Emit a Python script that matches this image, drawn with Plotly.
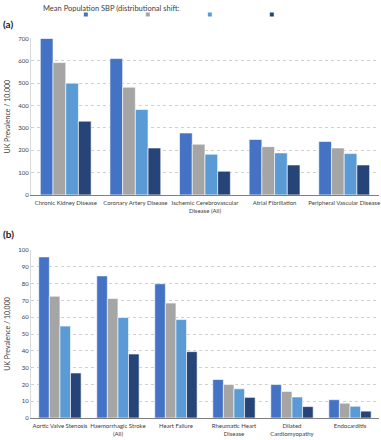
import plotly.graph_objects as go

series_colors = ["#4472C4", "#A5A5A5", "#5B9BD5", "#264478"]

cats_a = ["Chronic Kidney Disease", "Coronary Artery Disease",
          "Ischemic Cerebrovascular<br>Disease (All)", "Atrial Fibrillation",
          "Peripheral Vascular Disease"]
a_s1 = [700, 610, 277, 248, 239]
a_s2 = [592, 482, 227, 216, 210]
a_s3 = [500, 382, 182, 188, 185]
a_s4 = [330, 210, 106, 134, 134]

cats_b = ["Aortic Valve Stenosis", "Haemorrhagic Stroke<br>(All)", "Heart Failure",
          "Rheumatic Heart<br>Disease", "Dilated<br>Cardiomyopathy", "Endocarditis"]
b_s1 = [95.9, 84.6, 79.9, 22.9, 19.9, 10.9]
b_s2 = [72.5, 71.1, 68.4, 19.9, 15.8, 8.8]
b_s3 = [54.7, 59.8, 58.6, 17.4, 12.5, 7.0]
b_s4 = [26.8, 38.1, 39.5, 12.3, 6.8, 4.1]

a_series = [a_s1, a_s2, a_s3, a_s4]
b_series = [b_s1, b_s2, b_s3, b_s4]

FONT = "Liberation Sans Narrow, Lato, sans-serif"
TXT = "#404040"

fig = go.Figure()
for i, vals in enumerate(a_series):
    fig.add_trace(go.Bar(x=cats_a, y=vals, marker=dict(color=series_colors[i], line=dict(color="white", width=0.6)),
                         showlegend=False, xaxis="x", yaxis="y"))
for i, vals in enumerate(b_series):
    fig.add_trace(go.Bar(x=cats_b, y=vals, marker=dict(color=series_colors[i], line=dict(color="white", width=0.6)),
                         showlegend=False, xaxis="x2", yaxis="y2"))
# legend entries (labels not shown in the reference)
for i, c in enumerate(series_colors):
    fig.add_trace(go.Scatter(x=[None], y=[None], mode="markers",
                             marker=dict(symbol="square", size=4, color=c),
                             name=" ", showlegend=True, xaxis="x", yaxis="y"))

W, H = 381, 440
x0, x1 = 31 / W, 380 / W
axis_common = dict(showgrid=False, ticks="", tickangle=0, tickfont=dict(size=6, color=TXT, family=FONT),
                   ticklabelstandoff=2, showline=True, linecolor="#7f7f7f", linewidth=1)
yaxis_common = dict(showgrid=True, gridcolor="#d0d0d0", griddash="dot", gridwidth=1,
                    tickfont=dict(size=6, color=TXT, family=FONT), ticks="",
                    showline=True, linecolor="#d9d9d9", linewidth=1, zeroline=False,
                    title=dict(text="UK Prevalence / 10,000", font=dict(size=7, color=TXT, family=FONT), standoff=6))

fig.update_layout(
    width=W, height=H,
    margin=dict(l=0, r=0, t=0, b=0),
    paper_bgcolor="white", plot_bgcolor="white",
    barmode="group", bargap=0.27, bargroupgap=0.0,
    font=dict(family=FONT, color=TXT),
    xaxis=dict(domain=[x0, x1], anchor="y", **axis_common),
    yaxis=dict(domain=[1 - 194 / H, 1 - 35 / H], range=[0, 700], dtick=100, anchor="x", **yaxis_common),
    xaxis2=dict(domain=[x0, x1], anchor="y2", **axis_common),
    yaxis2=dict(domain=[1 - 420.7 / H, 1 - 250 / H], range=[0, 100], dtick=10, anchor="x2", **yaxis_common),
    legend=dict(orientation="h", x=66 / W, xanchor="left", y=1 + 4 / H, yanchor="top",
                entrywidth=17, entrywidthmode="pixels", itemwidth=30,
                font=dict(size=7, family=FONT, color=TXT), bgcolor="rgba(0,0,0,0)", tracegroupgap=0),
    annotations=[
        dict(text="Mean Population SBP (distributional shift:", x=41 / W, y=1 - 5 / H, xref="paper", yref="paper",
             xanchor="left", yanchor="middle", showarrow=False, font=dict(size=7.5, family=FONT, color=TXT)),
        dict(text="<b>(a)</b>", x=1 / W, y=1 - 20 / H, xref="paper", yref="paper",
             xanchor="left", yanchor="middle", showarrow=False, font=dict(size=10, family=FONT, color="#222")),
        dict(text="<b>(b)</b>", x=1 / W, y=1 - 234 / H, xref="paper", yref="paper",
             xanchor="left", yanchor="middle", showarrow=False, font=dict(size=10, family=FONT, color="#222")),
    ],
)

fig.write_html("out.html", config={"displayModeBar": False},
               post_script="document.body.style.margin='0';document.body.style.overflow='hidden';")
